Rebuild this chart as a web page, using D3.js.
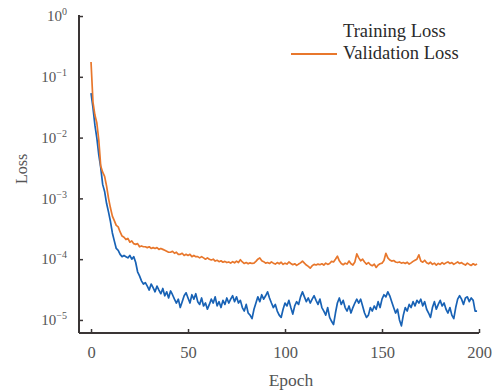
<!DOCTYPE html>
<html>
<head>
<meta charset="utf-8">
<script src="https://cdn.jsdelivr.net/npm/d3@7"></script>
<style>
  body { margin: 0; background: #fff; }
  svg { display: block; font-family: "Liberation Serif", "Times New Roman", serif; }
</style>
</head>
<body>
<svg width="498" height="392"></svg>
<script>
const seriesNames = ['Training Loss', 'Validation Loss']
const xTicks = [0, 50, 100, 150, 200]
const yTickExponents = [0, -1, -2, -3, -4, -5]

// loss per epoch (0..199)
const trainLoss = [
  0.054, 0.031, 0.016, 0.0098, 0.0052, 0.0032, 0.0017, 0.0013, 0.00083, 0.00060,
  0.00042, 0.00027, 0.00020, 0.00015, 0.00014, 0.00012, 1.1e-4, 1.15e-4, 1.1e-4, 1.05e-4,
  1.15e-4, 1.0e-4, 1.1e-4, 8.9e-5, 6.2e-5, 5.3e-5, 4.4e-5, 3.9e-5, 4.1e-5, 3.6e-5,
  3.1e-5, 3.9e-5, 3.4e-5, 2.9e-5, 3.6e-5, 3.1e-5, 2.7e-5, 3.3e-5, 2.5e-5, 2.9e-5,
  2.3e-5, 3.0e-5, 2.6e-5, 2.2e-5, 1.9e-5, 2.2e-5, 1.6e-5, 2.0e-5, 2.5e-5, 2.8e-5,
  2.3e-5, 1.9e-5, 2.6e-5, 2.2e-5, 2.7e-5, 2.0e-5, 1.8e-5, 2.3e-5, 1.7e-5, 1.9e-5,
  1.5e-5, 1.8e-5, 2.2e-5, 1.9e-5, 2.4e-5, 1.7e-5, 2.0e-5, 1.6e-5, 2.1e-5, 1.8e-5,
  2.3e-5, 1.9e-5, 2.2e-5, 2.5e-5, 2.0e-5, 2.4e-5, 1.9e-5, 2.1e-5, 1.6e-5, 1.4e-5,
  1.8e-5, 1.3e-5, 1.2e-5, 1.05e-5, 1.5e-5, 1.9e-5, 2.4e-5, 2.0e-5, 2.6e-5, 2.2e-5,
  2.5e-5, 2.9e-5, 2.3e-5, 1.9e-5, 1.6e-5, 1.8e-5, 1.4e-5, 1.2e-5, 1.1e-5, 1.5e-5,
  1.9e-5, 1.7e-5, 2.1e-5, 1.6e-5, 1.25e-5, 1.7e-5, 2.0e-5, 1.8e-5, 2.4e-5, 2.9e-5,
  2.4e-5, 2.0e-5, 2.3e-5, 1.9e-5, 2.2e-5, 2.5e-5, 2.1e-5, 1.8e-5, 2.2e-5, 1.6e-5,
  1.4e-5, 1.2e-5, 1.6e-5, 1.1e-5, 9.5e-6, 8.4e-6, 1.3e-5, 1.9e-5, 2.3e-5, 1.8e-5,
  2.1e-5, 1.6e-5, 1.4e-5, 1.7e-5, 1.3e-5, 1.6e-5, 1.9e-5, 2.2e-5, 1.9e-5, 2.2e-5,
  1.7e-5, 1.3e-5, 1.1e-5, 1.2e-5, 1.6e-5, 1.4e-5, 1.7e-5, 1.5e-5, 2.0e-5, 1.6e-5,
  2.2e-5, 2.6e-5, 2.4e-5, 2.9e-5, 2.5e-5, 2.0e-5, 1.6e-5, 1.3e-5, 1.5e-5, 1.0e-5,
  8.0e-6, 1.2e-5, 1.6e-5, 1.4e-5, 1.8e-5, 1.6e-5, 2.0e-5, 1.7e-5, 2.1e-5, 1.9e-5,
  2.2e-5, 1.7e-5, 2.0e-5, 1.5e-5, 1.3e-5, 1.1e-5, 1.6e-5, 2.0e-5, 1.5e-5, 1.8e-5,
  2.1e-5, 1.7e-5, 1.9e-5, 1.5e-5, 1.3e-5, 1.6e-5, 1.2e-5, 1.05e-5, 1.6e-5, 2.2e-5,
  2.5e-5, 2.2e-5, 1.8e-5, 2.3e-5, 2.4e-5, 2.0e-5, 2.3e-5, 2.1e-5, 1.4e-5, 1.4e-5
]

const valLoss = [
  0.175, 0.0385, 0.0235, 0.0174, 0.0091, 0.0034, 0.0027, 0.0023, 0.0016, 0.00101,
  0.00070, 0.00051, 0.00043, 0.00036, 0.00034, 0.00028, 0.00024, 0.00023, 0.00021, 0.00022,
  0.00019, 0.00020, 0.00018, 0.000175, 0.00018, 0.00016, 0.000165, 0.00016, 1.6e-4, 1.55e-4,
  1.6e-4, 1.5e-4, 1.55e-4, 1.5e-4, 1.55e-4, 1.45e-4, 1.5e-4, 1.45e-4, 1.4e-4, 1.35e-4,
  1.3e-4, 1.3e-4, 1.35e-4, 1.25e-4, 1.3e-4, 1.2e-4, 1.2e-4, 1.25e-4, 1.15e-4, 1.2e-4,
  1.15e-4, 1.2e-4, 1.1e-4, 1.15e-4, 1.1e-4, 1.1e-4, 1.05e-4, 1.1e-4, 1.05e-4, 1.0e-4,
  1.05e-4, 1.0e-4, 9.7e-5, 1.0e-4, 9.3e-5, 9.6e-5, 9.1e-5, 9.4e-5, 8.9e-5, 9.2e-5,
  8.8e-5, 9.0e-5, 8.6e-5, 9.1e-5, 8.7e-5, 9.3e-5, 8.8e-5, 9.8e-5, 9.0e-5, 8.5e-5,
  8.8e-5, 8.4e-5, 8.7e-5, 8.5e-5, 8.6e-5, 9.2e-5, 1.0e-4, 1.05e-4, 9.4e-5, 9.1e-5,
  8.6e-5, 8.8e-5, 8.5e-5, 9.0e-5, 8.6e-5, 8.3e-5, 8.8e-5, 8.4e-5, 8.9e-5, 8.2e-5,
  8.6e-5, 8.3e-5, 9.0e-5, 8.5e-5, 8.1e-5, 8.4e-5, 7.9e-5, 8.3e-5, 8.7e-5, 9.3e-5,
  8.6e-5, 8.0e-5, 7.6e-5, 7.1e-5, 7.8e-5, 8.2e-5, 8.0e-5, 8.3e-5, 8.1e-5, 8.4e-5,
  8.0e-5, 8.6e-5, 8.2e-5, 8.5e-5, 9.2e-5, 9.0e-5, 1.0e-4, 1.12e-4, 9.4e-5, 8.5e-5,
  8.1e-5, 8.6e-5, 8.3e-5, 9.3e-5, 8.4e-5, 8.0e-5, 9.0e-5, 1.22e-4, 1.05e-4, 9.4e-5,
  1.0e-4, 9.0e-5, 8.3e-5, 8.8e-5, 8.1e-5, 7.8e-5, 8.3e-5, 7.3e-5, 8.0e-5, 8.4e-5,
  8.6e-5, 9.5e-5, 1.25e-4, 1.05e-4, 9.7e-5, 9.3e-5, 9.5e-5, 9.0e-5, 8.8e-5, 9.0e-5,
  8.6e-5, 8.8e-5, 8.5e-5, 8.9e-5, 8.3e-5, 8.7e-5, 9.2e-5, 9.6e-5, 1.0e-4, 1.18e-4,
  9.3e-5, 8.9e-5, 9.6e-5, 8.7e-5, 8.4e-5, 8.9e-5, 8.2e-5, 8.6e-5, 8.0e-5, 8.5e-5,
  8.2e-5, 8.8e-5, 8.3e-5, 8.7e-5, 9.0e-5, 8.5e-5, 8.8e-5, 8.2e-5, 8.6e-5, 9.0e-5,
  8.5e-5, 8.8e-5, 8.3e-5, 8.0e-5, 8.6e-5, 8.2e-5, 7.9e-5, 8.4e-5, 8.0e-5, 8.3e-5
]

const colors = ['#1862b5', '#e8772c']

const svg = d3.select('svg')
const margin = {top: 15, right: 19, bottom: 59, left: 79}
const width = 498
const height = 392

const x = d3.scaleLinear()
  .domain([-6.2, 200])
  .range([margin.left, width - margin.right])

const y = d3.scaleLog()
  .domain([6.1e-6, 1.04])
  .range([height - margin.bottom, margin.top])

const line = d3.line()
  .x((d, i) => x(i))
  .y(d => y(d))

svg.append('g')
  .selectAll('path')
  .data([trainLoss, valLoss])
  .join('path')
    .attr('fill', 'none')
    .attr('stroke', (d, i) => colors[i])
    .attr('stroke-width', 1.7)
    .attr('stroke-linejoin', 'round')
    .attr('d', line)

// axes, ticks pointing inward
const axisColor = '#3a3535'
const labelColor = '#555'

const xAxis = g => g
  .attr('transform', `translate(0, ${height - margin.bottom})`)
  .call(d3.axisBottom(x).tickValues(xTicks).tickSize(-4).tickSizeOuter(0).tickPadding(13))
  .call(g => g.select('.domain').attr('stroke', axisColor).attr('stroke-width', 2)
    .attr('d', `M${margin.left},0H${width - margin.right}`))
  .call(g => g.selectAll('.tick line').attr('stroke', axisColor).attr('stroke-width', 1.5))
  .call(g => g.selectAll('.tick text')
    .attr('fill', labelColor)
    .attr('font-size', 16.5)
    .attr('font-family', '"Liberation Serif", serif'))

const yAxis = g => g
  .attr('transform', `translate(${margin.left}, 0)`)
  .call(d3.axisLeft(y).tickValues(yTickExponents.map(e => Math.pow(10, e)))
    .tickSize(-4).tickSizeOuter(0).tickPadding(12).tickFormat(() => ''))
  .call(g => g.select('.domain').attr('stroke', axisColor).attr('stroke-width', 2)
    .attr('d', `M0,${margin.top}V${height - margin.bottom}`))
  .call(g => g.selectAll('.tick line').attr('stroke', axisColor).attr('stroke-width', 1.5))
  .call(g => g.selectAll('.tick text')
    .attr('fill', labelColor)
    .attr('font-size', 15)
    .attr('font-family', '"Liberation Serif", serif')
    .each(function (d, i) {
      const t = d3.select(this)
      t.append('tspan').text('10')
      t.append('tspan').attr('font-size', 10).attr('dy', -6).text(yTickExponents[i] === 0 ? '0' : '\u2212' + (-yTickExponents[i]))
    }))

svg.append('g').call(xAxis)
svg.append('g').call(yAxis)

svg.append('text')
  .attr('x', 291)
  .attr('y', 386)
  .attr('text-anchor', 'middle')
  .attr('fill', labelColor)
  .attr('font-size', 17.5)
  .text('Epoch')

svg.append('text')
  .attr('transform', 'translate(27, 169) rotate(-90)')
  .attr('text-anchor', 'middle')
  .attr('fill', labelColor)
  .attr('font-size', 16)
  .text('Loss')

// legend (the training entry has no visible swatch in the reference)
const legend = svg.append('g')
legend.selectAll('text')
  .data(seriesNames)
  .join('text')
    .attr('x', 343)
    .attr('y', (d, i) => 37 + i * 22)
    .attr('fill', '#2a2a2a')
    .attr('font-size', 18.5)
    .text(d => d)

legend.append('line')
  .attr('x1', 291)
  .attr('x2', 337)
  .attr('y1', 54)
  .attr('y2', 54)
  .attr('stroke', colors[1])
  .attr('stroke-width', 2)
</script>
</body>
</html>
